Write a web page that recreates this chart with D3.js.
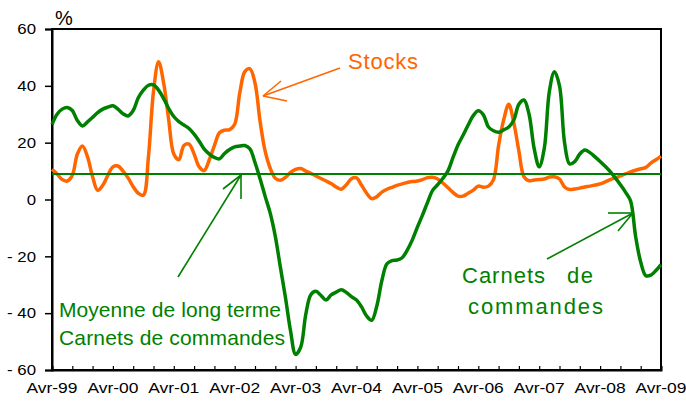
<!DOCTYPE html>
<html><head><meta charset="utf-8">
<script src="https://cdn.jsdelivr.net/npm/d3@7"></script>
<style>html,body{margin:0;padding:0;background:#fff;} svg{display:block;}</style>
</head><body><svg id="c" width="686" height="401"></svg>
<script>
// Monthly values, Avr-99 .. Avr-09 (121 months)
const stocks = [
10.6, 9, 7, 6.5, 8.5, 16, 18.8, 15, 8, 3.2,
5, 8.5, 11.5, 11.8, 10, 7.6, 4.5, 2.2, 1.5, 15,
38, 48.5, 41, 28, 16, 14, 19, 19.5, 16, 11.5,
10.2, 14, 19, 23.5, 24.4, 24.6, 26.5, 37.5, 45, 46,
41, 27.5, 17, 11, 7.5, 6.8, 7.8, 9.5, 10.6, 10.9,
10, 9.2, 8.3, 7.4, 6.5, 5.6, 4.4, 3.6, 5.2, 7.3,
7.6, 5, 2.2, 0.3, 1, 2.6, 3.6, 4.3, 5, 5.5,
6, 6.3, 6.5, 7, 7.7, 7.8, 7.2, 5.8, 4.2, 2.5,
1.2, 1.2, 2.2, 3.3, 4.7, 4.3, 4.7, 7, 19, 28,
33.5, 27, 17, 8, 6.6, 6.9, 7, 7.2, 7.9, 8,
7.2, 4.4, 3.5, 3.7, 4, 4.4, 4.7, 5.1, 5.5, 6.2,
7, 7.6, 8.3, 9, 9.7, 10.3, 10.8, 11.3, 12.8, 14, 15.2];

const carnets = [
26.4, 30, 31.8, 32.4, 31.3, 27.8, 25.9, 27.3, 28.9, 30.6,
31.8, 32.5, 33, 31.8, 30.2, 29.4, 31.3, 35.8, 38.5, 40.2,
40.3, 38.5, 35.5, 32, 29.2, 27.4, 26.2, 25, 23, 20.5,
17.7, 16, 14.8, 14.3, 16.2, 17.6, 18.5, 18.8, 19, 17.8,
13, 7.3, 1.1, -4.8, -13, -23.8, -34.5, -46.2, -54.5, -52,
-40.5, -33.5, -32.3, -33.8, -35.4, -33.6, -32.6, -31.8, -32.7, -34.2,
-35.4, -37.8, -41, -42.5, -37.5, -28.5, -22.6, -21.5, -21.3, -20.5,
-17.8, -14.2, -9.7, -5.5, -1, 3.2, 5.2, 7.4, 10, 14.7,
19.2, 22.6, 26.2, 29.5, 31.2, 29.8, 25.5, 24.2, 23.7, 24.5,
25.5, 28, 33.5, 35, 30, 18, 11.5, 18, 38, 45,
40, 20, 12.5, 13.3, 16, 17.4, 16.5, 15, 13.4, 11.7,
9.8, 7.6, 5.2, 2.6, -0.5, -13, -22, -26.8, -26.6, -25, -22.9];

const longTermMean = 9;
const xLabels = ["Avr-99","Avr-00","Avr-01","Avr-02","Avr-03","Avr-04","Avr-05","Avr-06","Avr-07","Avr-08","Avr-09"];
const yTickValues = [-60, -40, -20, 0, 20, 40, 60];
const unitLabel = "%";

const ORANGE = "#FF6600", GREEN = "#008000";
const FONT = "'Liberation Sans', Arial, sans-serif";
const L = 52, R = 661, T = 29, B = 370;

const svg = d3.select("#c");
const nMonths = stocks.length;
const x = d3.scaleLinear().domain([0, nMonths - 1]).range([L, R]);
const y = d3.scaleLinear().domain([-60, 60]).range([B, T]);

// frame
svg.append("rect").attr("x", L).attr("y", T).attr("width", R - L).attr("height", B - T)
  .attr("fill", "none").attr("stroke", "#000").attr("stroke-width", 2);

// y axis
const yAxis = d3.axisLeft(y).tickValues(yTickValues).tickSize(7).tickPadding(9)
  .tickFormat(d => d < 0 ? "- " + Math.abs(d) : String(d));
const gy = svg.append("g").attr("transform", `translate(${L},0)`).call(yAxis);
gy.select(".domain").attr("stroke", "#000").attr("stroke-width", 2);
gy.selectAll(".tick line").attr("stroke", "#000").attr("stroke-width", 1.5);
gy.selectAll(".tick text").attr("font-family", FONT).attr("font-size", 15).attr("fill", "#000")
  .each(function () { const w = this.getComputedTextLength(); d3.select(this).attr("textLength", w * 1.12).attr("lengthAdjust", "spacingAndGlyphs"); });

// x axis: minor ticks every 4 months (inward), labels every 12 months
const xAxis = d3.axisBottom(x).tickValues(d3.range(0, nMonths, 4)).tickSize(-4).tickFormat("");
const gx = svg.append("g").attr("transform", `translate(0,${B})`).call(xAxis);
gx.select(".domain").attr("stroke", "#000").attr("stroke-width", 2);
gx.selectAll(".tick line").attr("stroke", "#000").attr("stroke-width", 1.2);

svg.append("g").selectAll("text").data(xLabels).join("text")
  .attr("x", (d, i) => x(i * 12)).attr("y", 393)
  .attr("text-anchor", "middle").attr("font-family", FONT).attr("font-size", 15)
  .attr("textLength", 51).attr("lengthAdjust", "spacingAndGlyphs").attr("fill", "#000")
  .text(d => d);

svg.append("text").attr("x", 55).attr("y", 25).attr("font-family", FONT).attr("font-size", 20)
  .attr("fill", "#000").text(unitLabel);

// lines
const line = d3.line().x((d, i) => x(i)).y(d => y(d)).curve(d3.curveCatmullRom.alpha(0.5));
svg.append("path").datum(stocks).attr("d", line).attr("fill", "none")
  .attr("stroke", ORANGE).attr("stroke-width", 3.5).attr("stroke-linejoin", "round");
svg.append("line").attr("x1", x(0)).attr("x2", x(nMonths - 1))
  .attr("y1", y(longTermMean)).attr("y2", y(longTermMean))
  .attr("stroke", GREEN).attr("stroke-width", 2);
svg.append("path").datum(carnets).attr("d", line).attr("fill", "none")
  .attr("stroke", GREEN).attr("stroke-width", 3.5).attr("stroke-linejoin", "round");

// annotations
function arrow(color, from, tip, h1, h2, w) {
  const g = svg.append("g").attr("stroke", color).attr("stroke-width", w).attr("fill", "none");
  g.append("line").attr("x1", from[0]).attr("y1", from[1]).attr("x2", tip[0]).attr("y2", tip[1]);
  g.append("line").attr("x1", h1[0]).attr("y1", h1[1]).attr("x2", tip[0]).attr("y2", tip[1]);
  g.append("line").attr("x1", h2[0]).attr("y1", h2[1]).attr("x2", tip[0]).attr("y2", tip[1]);
}
arrow(ORANGE, [340, 68], [263, 96], [281, 81], [287, 101], 1.6);
arrow(GREEN, [178, 277], [241, 175], [241, 199], [223, 189], 1.6);
arrow(GREEN, [547, 259], [633, 213], [608, 213], [618, 231], 1.6);

function label(txt, xx, yy, size, color, len) {
  const t = svg.append("text").attr("x", xx).attr("y", yy).attr("font-family", FONT)
    .attr("font-size", size).attr("fill", color).text(txt);
  if (len) t.attr("textLength", len).attr("lengthAdjust", "spacing");
  return t;
}
label("Stocks", 348, 69, 22, ORANGE, 70);
label("Moyenne de long terme", 59, 317, 21, GREEN, 222);
label("Carnets de commandes", 59, 345, 21, GREEN, 226);
label("Carnets", 462, 283, 22, GREEN, 83);
label("de", 567, 283, 22, GREEN, 26);
label("commandes", 468, 314, 22, GREEN, 135);
</script>
</body></html>
